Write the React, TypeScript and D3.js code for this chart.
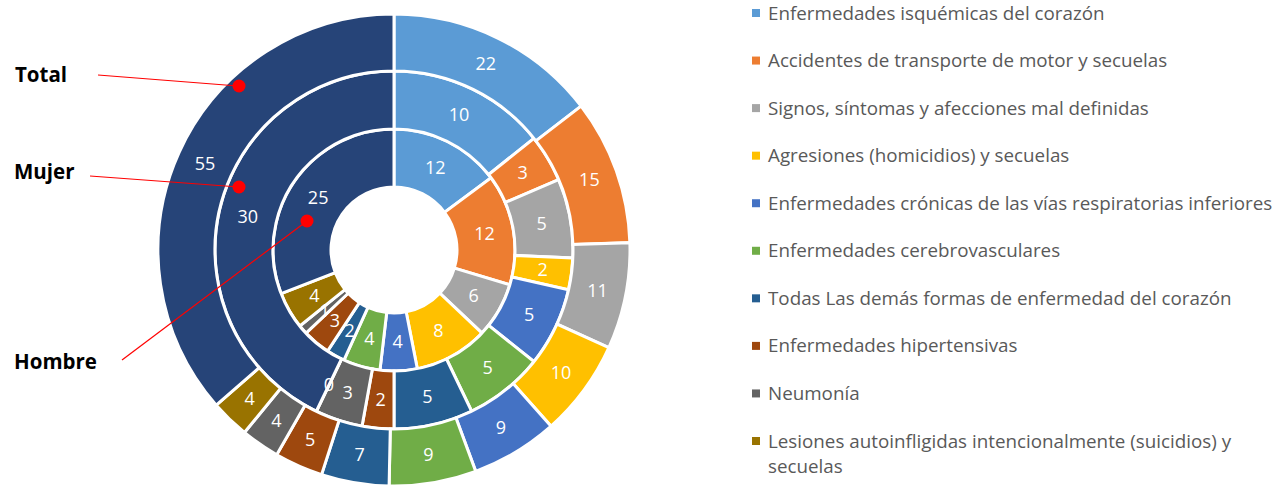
import * as d3 from "d3";

// categorias (el ultimo es "otras", sin leyenda)
const categories = [
  "Enfermedades isquémicas del corazón",
  "Accidentes de transporte de motor y secuelas",
  "Signos, síntomas y afecciones mal definidas",
  "Agresiones (homicidios) y secuelas",
  "Enfermedades crónicas de las vías respiratorias inferiores",
  "Enfermedades cerebrovasculares",
  "Todas Las demás formas de enfermedad del corazón",
  "Enfermedades hipertensivas",
  "Neumonía",
  "Lesiones autoinfligidas intencionalmente (suicidios) y secuelas",
  "Otras",
];
const hombre = [12, 12, 6, 8, 4, 4, 2, 3, 1, 4, 25];
const mujer = [10, 3, 5, 2, 5, 5, 5, 2, 3, 0, 30];
const total = [22, 15, 11, 10, 9, 9, 7, 5, 4, 4, 55];
const colors = [
  "#5B9BD5", "#ED7D31", "#A5A5A5", "#FFC000", "#4472C4",
  "#70AD47", "#255E91", "#9E480E", "#636363", "#997300", "#264478",
];

const W = 1275;
const H = 485;
const cx = 394;
const cy = 250;
const radii = [63, 121, 179, 236];
const font = "'Open Sans', 'Noto Sans', sans-serif";

// legend lines (the long one wraps)
const legendLines = [
  ["Enfermedades isquémicas del corazón"],
  ["Accidentes de transporte de motor y secuelas"],
  ["Signos, síntomas y afecciones mal definidas"],
  ["Agresiones (homicidios) y secuelas"],
  ["Enfermedades crónicas de las vías respiratorias inferiores"],
  ["Enfermedades cerebrovasculares"],
  ["Todas Las demás formas de enfermedad del corazón"],
  ["Enfermedades hipertensivas"],
  ["Neumonía"],
  ["Lesiones autoinfligidas intencionalmente (suicidios) y", "secuelas"],
];

function Ring({ values, r0, r1 }: { values: number[]; r0: number; r1: number }) {
  const pie = d3.pie<number>().sort(null).value((d) => d);
  const arc = d3.arc<d3.PieArcDatum<number>>().innerRadius(r0).outerRadius(r1);
  const arcs = pie(values);
  return (
    <g>
      {arcs.map((a, i) => (
        <path key={"p" + i} d={arc(a) || ""} fill={colors[i]} stroke="#fff" strokeWidth={3} />
      ))}
      {arcs.map((a, i) => {
        const [x, y] = arc.centroid(a);
        return (
          <text
            key={"t" + i}
            x={x}
            y={y}
            dy="0.35em"
            textAnchor="middle"
            fill="#fff"
            fontSize={18}
            fontFamily={font}
          >
            {values[i]}
          </text>
        );
      })}
    </g>
  );
}

export default function App() {
  const legendY = d3.scaleLinear().domain([0, 9]).range([13, 441]);

  return (
    <svg
      width={W}
      height={H}
      style={{ position: "absolute", left: 0, top: 0, background: "#fff" }}
    >
      <g transform={`translate(${cx},${cy})`}>
        <Ring values={hombre} r0={radii[0]} r1={radii[1]} />
        <Ring values={mujer} r0={radii[1]} r1={radii[2]} />
        <Ring values={total} r0={radii[2]} r1={radii[3]} />
      </g>

      {/* etiquetas de anillos */}
      <g fontFamily={font} fontWeight="bold" fontSize={20.5} fill="#000">
        <text x={15} y={82}>Total</text>
        <text x={14} y={179}>Mujer</text>
        <text x={14} y={369}>Hombre</text>
      </g>
      <g stroke="#FF0000" strokeWidth={1.2}>
        <line x1={98} y1={75} x2={238} y2={86} />
        <line x1={90} y1={176} x2={239} y2={187} />
        <line x1={122} y1={360} x2={307} y2={221} />
      </g>
      <g fill="#FF0000">
        <circle cx={239} cy={86} r={6.5} />
        <circle cx={239} cy={187} r={6.5} />
        <circle cx={307} cy={221} r={6.5} />
      </g>

      {/* leyenda */}
      <g fontFamily={font} fontSize={18.8} fill="#595959">
        {legendLines.map((lines, i) => (
          <g key={i} transform={`translate(0,${legendY(i)})`}>
            <rect x={752} y={-4} width={8} height={8} fill={colors[i]} />
            {lines.map((ln, j) => (
              <text key={j} x={768} y={j * 25} dy="0.35em">
                {ln}
              </text>
            ))}
          </g>
        ))}
      </g>
    </svg>
  );
}
